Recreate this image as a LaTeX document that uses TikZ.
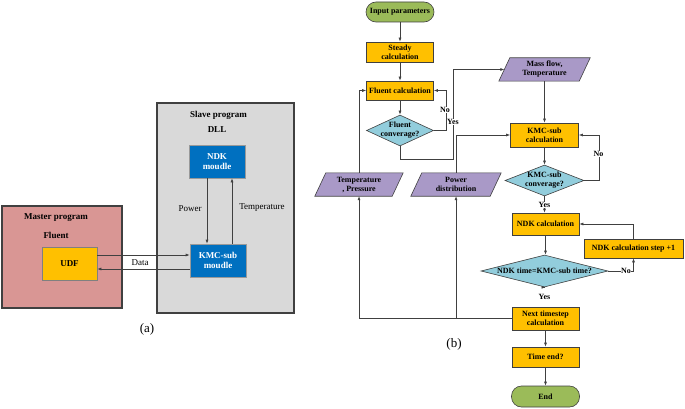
\documentclass[tikz,border=0pt]{standalone}
\usepackage{fontspec}
\setmainfont{Liberation Serif}
\usetikzlibrary{shapes.geometric,arrows.meta,calc,backgrounds}
\definecolor{orangeC}{RGB}{255,192,0}
\definecolor{pinkC}{RGB}{217,150,148}
\definecolor{grayC}{RGB}{217,217,217}
\definecolor{blueC}{RGB}{0,112,192}
\definecolor{purpleC}{RGB}{169,153,199}
\definecolor{cyanC}{RGB}{146,205,220}
\definecolor{greenC}{RGB}{155,187,89}
\definecolor{lineC}{RGB}{64,64,64}
\tikzset{
  txtb/.style={font=\bfseries\fontsize{8}{9}\selectfont, align=center, inner sep=0},
  box/.style={draw=lineC, line width=0.6pt, fill=orangeC, inner sep=0, txtb},
  stadium/.style={draw=lineC, line width=0.6pt, fill=greenC, rounded corners=10pt, inner sep=0, txtb},
  dia/.style={diamond, draw=lineC, line width=0.6pt, fill=cyanC, inner sep=0},
  paratext/.style={inner sep=0, txtb},
  parafill/.style={draw=lineC, line width=0.6pt, fill=purpleC},
  arr/.style={draw=lineC, line width=0.6pt, -{Latex[length=4pt,width=3pt]}},
  ln/.style={draw=lineC, line width=0.6pt},
  lab/.style={fill=white, inner sep=0.5pt, font=\bfseries\fontsize{8}{9}\selectfont},
  bigbox/.style={draw=lineC, line width=1.1pt, inner sep=0},
  bluebox/.style={draw=black!40, line width=0.6pt, fill=blueC, text=white, inner sep=0, align=center, font=\bfseries\fontsize{9}{10.5}\selectfont},
  reg/.style={font=\fontsize{9}{10.5}\selectfont, inner sep=0},
  hd/.style={font=\bfseries\fontsize{9}{10.5}\selectfont, inner sep=0},
}
\newcommand{\paradraw}[1]{%
  \path[parafill] ([xshift=5.5]#1.north west) -- ([xshift=5.5]#1.north east) --
    ([xshift=-5.5]#1.south east) -- ([xshift=-5.5]#1.south west) -- cycle;}
\begin{document}
\begin{tikzpicture}[x=1pt,y=-1pt]
\useasboundingbox (0,0) rectangle (685,409);
% ---------------- panel (a)
\node[bigbox, fill=pinkC, minimum width=120, minimum height=102] (master) at (62,257) {};
\node[hd] (mt1) at (56,218) {Master program};
\node[hd] (mt2) at (56,235) {Fluent};
\node[draw=black!50, line width=0.6pt, fill=orangeC, minimum width=55, minimum height=33, inner sep=0, hd] (udf) at (69.5,263.5) {UDF};
\node[bigbox, fill=grayC, minimum width=137, minimum height=210] (slave) at (225.5,208) {};
\node[hd] (st1) at (218.5,115) {Slave program};
\node[hd] (st2) at (217,130) {DLL};
\node[bluebox, minimum width=56, minimum height=33] (ndk0) at (217,161.5) {NDK\\moudle};
\node[bluebox, minimum width=56, minimum height=33] (kmc0) at (218,260.5) {KMC-sub\\moudle};
\draw[arr] ([xshift=-10]ndk0.south) -- ([xshift=-10]ndk0.south |- kmc0.north);
\draw[arr] ([xshift=15]ndk0.south |- kmc0.north) -- ([xshift=15]ndk0.south);
\node[reg] (pw) at (190,209) {Power};
\node[reg] (tl) at (262,208) {Temperature};
\draw[arr] ([yshift=8.5]udf.east) -- ([yshift=8.5]udf.east -| kmc0.west);
\draw[arr] ([yshift=-5.5]udf.east -| kmc0.west) -- ([yshift=-5.5]udf.east);
\node[reg] (dl) at (140,263) {Data};
\node[font=\fontsize{13}{15}\selectfont, inner sep=0] (pa) at (147,329) {(a)};
% ---------------- panel (b)
\node[stadium, minimum width=68, minimum height=20] (in) at (400,12) {Input parameters};
\node[box, minimum width=67, minimum height=20] (steady) at (400,52) {Steady\\calculation};
\node[box, minimum width=67, minimum height=19] (fluent) at (400,90.5) {Fluent calculation};
\node[dia, minimum width=67, minimum height=31] (fconv) at (400,130.5) {};
\node[txtb] (fconvt) at (fconv.center) {Fluent\\converage?};
\node[paratext, minimum width=80, minimum height=23] (mass) at (544.5,69.5) {Mass flow,\\Temperature};
\node[box, minimum width=68, minimum height=24] (kmc) at (544.5,135) {KMC-sub\\calculation};
\node[dia, minimum width=79, minimum height=31] (kconv) at (544.5,180.5) {};
\node[txtb] (kconvt) at (kconv.center) {KMC-sub\\converage?};
\node[paratext, minimum width=77, minimum height=23] (tp) at (359,184.5) {Temperature\\, Pressure};
\node[paratext, minimum width=79, minimum height=23] (pd) at (456,184.5) {Power\\distribution};
\begin{scope}[on background layer]
\paradraw{mass}
\paradraw{tp}
\paradraw{pd}
\end{scope}
\node[box, minimum width=67, minimum height=22] (ndk) at (545.5,224) {NDK calculation};
\node[box, minimum width=99, minimum height=19] (step) at (633.5,248.5) {NDK calculation step +1};
\node[dia, minimum width=127, minimum height=32] (ntime) at (544.5,271) {};
\node[txtb] (ntimet) at (ntime.center) {NDK time=KMC-sub time?};
\node[box, minimum width=67, minimum height=23] (next) at (545.5,318.5) {Next timestep\\calculation};
\node[box, minimum width=67, minimum height=20] (tend) at (545.5,357) {Time end?};
\node[stadium, minimum width=68, minimum height=21] (end) at (545.5,396.5) {End};
\node[font=\fontsize{13}{15}\selectfont, inner sep=0] (pb) at (454,344) {(b)};
% connectors
\draw[arr] (in) -- (steady);
\draw[arr] (steady) -- (fluent);
\draw[arr] (fluent) -- (fconv);
\draw[arr] (fconv.east) -- ++(12,0) |- (fluent.east);
\node[lab] (no1) at (445,110) {No};
\coordinate (yb) at (453,159);
\draw[arr] (fconv.south) |- (yb) |- (mass.west);
\node[lab] (yes1) at (453,122) {Yes};
\draw[arr] (mass.south) -- (mass.south |- kmc.north);
\draw[arr] (pd.north) |- (kmc.west);
\draw[arr] (tp.north) |- (fluent.west);
\draw[arr] (kmc) -- (kconv);
\draw[arr] (kconv.east) -- ++(15,0) |- (kmc.east);
\node[lab] (no2) at (598.5,154) {No};
\draw[arr] (kconv) -- (kconv.south |- ndk.north);
\node[lab] (yes2) at (544.5,205) {Yes};
\draw[arr] (ndk.south) -- (ndk.south |- ntime.north);
\draw[arr] (ntime.east) -| (step.south);
\node[lab] (no3) at (626,271) {No};
\draw[arr] (step.north) |- (ndk.east);
\draw[arr] (ntime.south) -- (ntime.south -| next.north);
\node[lab] (yes3) at (544.5,297) {Yes};
\draw[arr] (next.west) -| (tp.south);
\draw[arr] (pd.south |- next.west) -- (pd.south);
\draw[arr] (next) -- (tend);
\draw[arr] (tend) -- (end);
\end{tikzpicture}
\end{document}
